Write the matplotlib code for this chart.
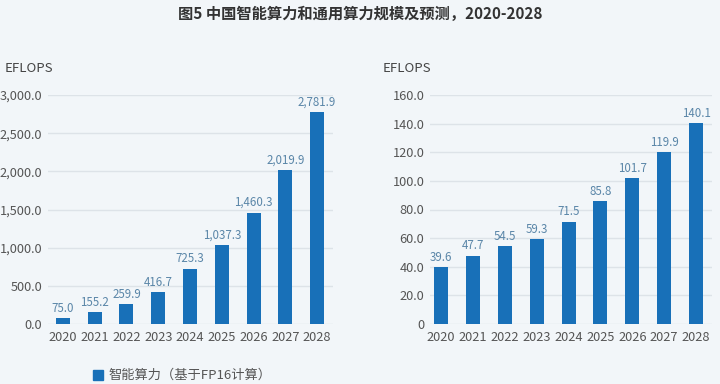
import matplotlib
matplotlib.use("Agg")
import matplotlib.pyplot as plt
from matplotlib.patches import Rectangle

plt.rcParams['font.family'] = ['Noto Sans CJK SC', 'DejaVu Sans']

years = ['2020', '2021', '2022', '2023', '2024', '2025', '2026', '2027', '2028']
ai_compute = [75.0, 155.2, 259.9, 416.7, 725.3, 1037.3, 1460.3, 2019.9, 2781.9]
general_compute = [39.6, 47.7, 54.5, 59.3, 71.5, 85.8, 101.7, 119.9, 140.1]
left_ticks = [0, 500, 1000, 1500, 2000, 2500, 3000]
right_ticks = [0, 20, 40, 60, 80, 100, 120, 140, 160]
title = '图5 中国智能算力和通用算力规模及预测，2020-2028'
unit = 'EFLOPS'
legend_left = '智能算力（基于FP16计算）'

BG = '#f2f6f9'
BAR = '#1870b8'
GRID = '#dde3e8'
TICK = '#555555'
VAL = '#5a86a8'

W, H = 720, 384
fig = plt.figure(figsize=(7.2, 3.84), dpi=100, facecolor=BG)

def px(x0, y0, x1, y1):
    return [x0 / W, 1 - y1 / H, (x1 - x0) / W, (y1 - y0) / H]

def style(ax, ticks, fmt, ylim, xlim):
    ax.set_facecolor(BG)
    for s in ax.spines.values():
        s.set_visible(False)
    ax.set_ylim(*ylim)
    ax.set_xlim(*xlim)
    ax.set_yticks(ticks)
    ax.set_yticklabels([fmt(t) for t in ticks])
    ax.set_xticks(range(len(years)))
    ax.set_xticklabels(years)
    ax.tick_params(axis='both', length=0, labelsize=9.2, labelcolor=TICK)
    ax.tick_params(axis='y', pad=4)
    ax.tick_params(axis='x', pad=5)
    ax.grid(axis='y', color=GRID, linewidth=1.0)
    ax.set_axisbelow(True)

ax1 = fig.add_axes(px(48, 95, 333, 324))
style(ax1, left_ticks, lambda t: f'{t:,.1f}', (0, 3000), (-0.47, 8.5))
ax1.bar(range(len(years)), ai_compute, width=0.44, color=BAR, zorder=3)
for i, v in enumerate(ai_compute):
    ax1.annotate(f'{v:,.1f}', (i, v), xytext=(0, 2.5), textcoords='offset points',
                 ha='center', va='bottom', fontsize=8.3, color=VAL, clip_on=False)

ax2 = fig.add_axes(px(430, 95, 712, 324))
style(ax2, right_ticks, lambda t: '0' if t == 0 else f'{t:.1f}', (0, 160), (-0.345, 8.5))
ax2.bar(range(len(years)), general_compute, width=0.44, color=BAR, zorder=3)
for i, v in enumerate(general_compute):
    ax2.annotate(f'{v:.1f}', (i, v), xytext=(0, 2.5), textcoords='offset points',
                 ha='center', va='bottom', fontsize=8.3, color=VAL, clip_on=False)

fig.text(360 / W, 1 - 14 / H, title, ha='center', va='center', fontsize=11,
         fontweight='bold', color='#333333')
fig.text(5 / W, 1 - 68 / H, unit, ha='left', va='center', fontsize=9.5, color='#444444')
fig.text(383 / W, 1 - 68 / H, unit, ha='left', va='center', fontsize=9.5, color='#444444')

fig.patches.append(Rectangle((93 / W, 1 - 380 / H), 10 / W, 10 / H,
                             transform=fig.transFigure, color=BAR))
fig.text(108 / W, 1 - 375 / H, legend_left, ha='left', va='center', fontsize=9.5, color=TICK)

fig.savefig('out.png', dpi=100, facecolor=BG)
